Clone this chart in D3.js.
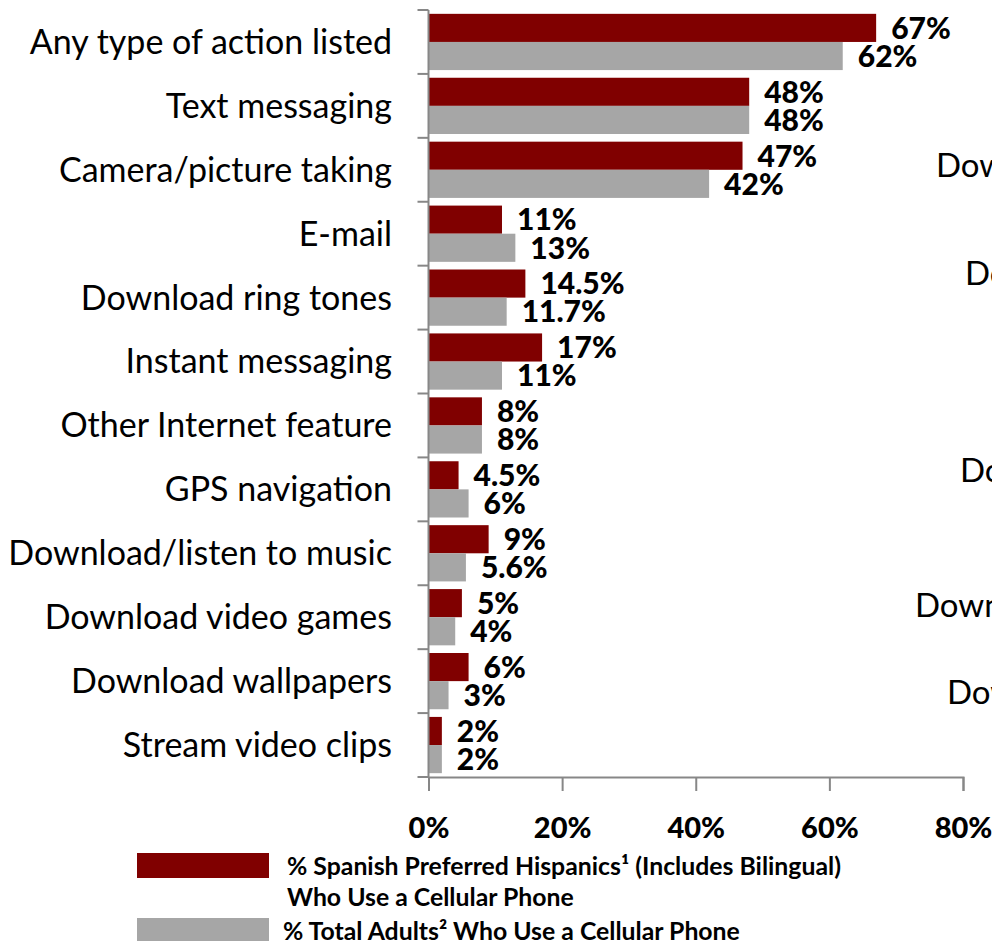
<!DOCTYPE html>
<html>
<head>
<meta charset="utf-8">
<script src="https://cdn.jsdelivr.net/npm/d3@7"></script>
<style>
  html, body { margin: 0; padding: 0; background: #fff; }
  svg { display: block; overflow: hidden; }
  text { font-family: Lato, "Open Sans", sans-serif; fill: #000; }
</style>
</head>
<body>
<svg id="chart" width="992" height="941"></svg>
<script>
// Mobile phone activities, share of cell phone users
const categories = [
  "Any type of action listed",
  "Text messaging",
  "Camera/picture taking",
  "E-mail",
  "Download ring tones",
  "Instant messaging",
  "Other Internet feature",
  "GPS navigation",
  "Download/listen to music",
  "Download video games",
  "Download wallpapers",
  "Stream video clips"
];
const spanishPreferred = [67, 48, 47, 11, 14.5, 17, 8, 4.5, 9, 5, 6, 2];
const totalAdults      = [62, 48, 42, 13, 11.7, 11, 8, 6, 5.6, 4, 3, 2];
const seriesNames = [
  ["% Spanish Preferred Hispanics\u00B9 (Includes Bilingual)", "Who Use a Cellular Phone"],
  ["% Total Adults\u00B2 Who Use a Cellular Phone"]
];
const xTicks = [0, 20, 40, 60, 80];
// category labels of the neighbouring chart, cut off at the right edge
const neighbourLabels = ["Download", "Download", "Download", "Download", "Download"];

const series = [
  { key: "sp", name: seriesNames[0], values: spanishPreferred, color: "#800000" },
  { key: "ta", name: seriesNames[1], values: totalAdults, color: "#a6a6a6" }
];

const svg = d3.select("#chart");

const x = d3.scaleLinear().domain([0, 80]).range([428.5, 963]);
const y = d3.scaleBand().domain(categories).range([10, 777])
  .paddingInner(0.12).paddingOuter(0.06);
const ySub = d3.scaleBand().domain(series.map(s => s.key)).range([0, y.bandwidth()]);

// bars
const groups = svg.append("g").selectAll("g")
  .data(categories)
  .join("g")
  .attr("transform", d => `translate(0,${y(d)})`);

series.forEach(s => {
  groups.append("rect")
    .attr("x", x(0))
    .attr("y", ySub(s.key))
    .attr("height", ySub.bandwidth())
    .attr("width", (d, i) => x(s.values[i]) - x(0))
    .attr("fill", s.color);

  groups.append("text")
    .attr("x", (d, i) => x(s.values[i]) + 15)
    .attr("y", ySub(s.key) + ySub.bandwidth() / 2)
    .attr("dy", "0.36em")
    .attr("font-size", 30)
    .attr("font-weight", 900)
    .text((d, i) => s.values[i] + "%");
});

// category axis: line plus ticks on category boundaries
const axisColor = "#878787";
const step = y.step();
const yStart = y.range()[0];
const boundaries = d3.range(categories.length + 1).map(i => yStart + i * step);
const yAxis = svg.append("g");
yAxis.append("line")
  .attr("x1", x(0)).attr("x2", x(0))
  .attr("y1", yStart).attr("y2", boundaries[boundaries.length - 1])
  .attr("stroke", axisColor).attr("stroke-width", 2);
yAxis.selectAll("line.tick")
  .data(boundaries)
  .join("line")
  .attr("class", "tick")
  .attr("x1", x(0) - 11).attr("x2", x(0))
  .attr("y1", d => d).attr("y2", d => d)
  .attr("stroke", axisColor).attr("stroke-width", 2);
yAxis.selectAll("text")
  .data(categories)
  .join("text")
  .attr("x", 392)
  .attr("y", d => y(d) + y.bandwidth() / 2)
  .attr("dy", "0.35em")
  .attr("text-anchor", "end")
  .attr("font-size", 34)
  .text(d => d);

// value axis
const xAxisY = boundaries[boundaries.length - 1];
const xAxis = svg.append("g").attr("transform", `translate(0,${xAxisY})`)
  .call(d3.axisBottom(x).tickValues(xTicks).tickFormat(d => d + "%").tickSize(14).tickPadding(26));
xAxis.select(".domain").attr("stroke", axisColor).attr("stroke-width", 2);
xAxis.selectAll(".tick line").attr("stroke", axisColor).attr("stroke-width", 2);
xAxis.selectAll(".tick text")
  .attr("font-family", "Lato, sans-serif")
  .attr("font-size", 29)
  .attr("font-weight", 900)
  .attr("fill", "#000");

// neighbouring chart labels
const neighbourPos = [[936, 165], [965, 273], [960, 470], [915, 605], [947, 692]];
svg.append("g").selectAll("text")
  .data(neighbourLabels)
  .join("text")
  .attr("x", (d, i) => neighbourPos[i][0])
  .attr("y", (d, i) => neighbourPos[i][1])
  .attr("dy", "0.35em")
  .attr("font-size", 33)
  .text(d => d);

// legend
const legend = svg.append("g");
const legendRows = [853, 918];
series.forEach((s, i) => {
  legend.append("rect")
    .attr("x", 137).attr("y", legendRows[i])
    .attr("width", 132).attr("height", 25)
    .attr("fill", s.color);
  s.name.forEach((line, j) => {
    legend.append("text")
      .attr("x", i === 0 ? 287 : 283)
      .attr("y", legendRows[i] + 13 + j * 31)
      .attr("dy", "0.35em")
      .attr("font-size", 24.8)
      .attr("font-weight", 700)
      .text(line);
  });
});
</script>
</body>
</html>
